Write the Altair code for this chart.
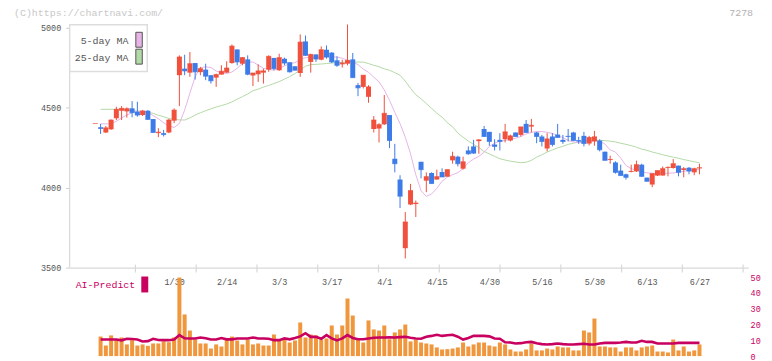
import altair as alt
import pandas as pd

# ---------------- data ----------------
opens = [4400,4377,4344,4364,4433,4480,4476,4495,4474,4453,
         4480,4428,4340,4340,4344,4418,4702,4743,4718,4778,
         4721,4737,4702,4687,4706,4718,4778,4863,4774,4801,
         4700,4708,4718,4737,4810,4733,4805,4783,4758,4716,
         4913,4785,4832,4799,4861,4843,4795,4770,4774,4801,
         4640,4629,4567,4366,4369,4395,4453,4180,4050,3621,
         3894,3897,4161,4043,4091,4050,4097,4068,4170,4193,
         4118,4232,4257,4290,4366,4348,4269,4298,4302,4294,
         4344,4329,4398,4381,4344,4319,4244,4319,4331,4298,
         4323,4344,4296,4323,4275,4288,4294,4224,4172,4157,
         4106,4083,4097,4101,4143,4062,4019,4075,4075,4122,
         4122,4137,4110,4124,4095,4120]
highs = [4400,4398,4385,4425,4505,4509,4501,4540,4536,4484,
         4484,4428,4371,4360,4429,4495,4826,4830,4847,4778,
         4754,4774,4702,4712,4764,4789,4894,4863,4816,4826,
         4716,4770,4743,4826,4810,4836,4812,4783,4758,4957,
         4950,4836,4832,4882,4888,4847,4820,4799,5019,4841,
         4654,4702,4640,4447,4402,4578,4453,4273,4077,3847,
         4023,3919,4161,4095,4095,4112,4120,4112,4224,4199,
         4193,4257,4298,4302,4385,4348,4302,4340,4398,4331,
         4344,4379,4422,4429,4348,4329,4340,4340,4398,4329,
         4366,4348,4317,4348,4323,4354,4302,4224,4199,4164,
         4143,4087,4143,4168,4149,4062,4087,4106,4132,4132,
         4178,4137,4128,4128,4124,4149]
lows = [4400,4335,4340,4360,4422,4422,4437,4439,4443,4447,
        4422,4344,4315,4319,4340,4402,4509,4702,4692,4675,
        4702,4671,4650,4629,4706,4718,4774,4764,4764,4702,
        4634,4660,4650,4723,4733,4729,4764,4719,4733,4692,
        4822,4718,4785,4795,4805,4778,4754,4750,4764,4687,
        4571,4619,4530,4344,4282,4391,4246,4095,3872,3557,
        3890,3816,4058,3971,4025,4050,4066,4068,4149,4132,
        4112,4205,4211,4211,4319,4261,4232,4232,4282,4288,
        4319,4319,4344,4344,4277,4257,4226,4257,4313,4273,
        4288,4290,4273,4257,4263,4261,4226,4170,4149,4087,
        4075,4050,4095,4097,4066,4039,4002,4072,4075,4070,
        4118,4070,4064,4083,4077,4083]
closes = [4400,4369,4373,4422,4489,4495,4493,4468,4453,4478,
          4426,4344,4346,4331,4422,4484,4816,4729,4774,4723,
          4743,4696,4667,4706,4727,4747,4884,4785,4812,4708,
          4716,4729,4729,4820,4743,4812,4778,4723,4733,4909,
          4826,4832,4803,4861,4816,4785,4764,4778,4795,4687,
          4623,4702,4629,4422,4393,4464,4294,4149,3946,3785,
          3981,3903,4112,4068,4025,4068,4066,4112,4195,4149,
          4161,4211,4215,4298,4319,4288,4257,4288,4348,4323,
          4319,4379,4344,4389,4319,4288,4304,4269,4313,4288,
          4319,4294,4290,4275,4313,4317,4236,4170,4176,4095,
          4075,4064,4101,4143,4070,4039,4087,4106,4118,4126,
          4149,4095,4118,4103,4118,4124]
volume = [None,12.4,6.7,13.1,10.5,11.8,7.4,10.1,6.7,7.4,
          6.5,8.0,8.0,9.3,8.8,11.8,49.8,26.4,16.2,10.5,
          8.0,8.0,4.8,7.4,6.1,10.5,12.4,9.9,7.4,10.5,
          7.4,8.0,6.7,6.7,13.7,10.5,10.5,8.6,9.9,21.3,
          11.8,13.7,13.1,10.5,11.2,19.4,13.7,19.4,36.5,25.7,
          10.5,8.6,22.6,16.9,16.2,19.4,10.7,15.0,16.9,20.0,
          9.3,10.5,8.6,8.0,7.4,5.5,4.2,4.4,4.8,5.5,
          8.6,6.1,7.4,8.6,8.6,6.7,6.1,8.6,7.4,4.2,
          2.9,2.9,4.2,8.0,3.6,3.6,4.8,4.2,6.1,5.5,
          5.5,3.6,3.6,16.2,15.0,23.8,6.1,6.1,5.5,5.5,
          2.9,5.5,5.5,3.6,5.5,6.1,6.7,2.9,2.9,2.3,
          10.5,3.6,6.1,2.9,3.6,7.4]
ai_predict = [None,10.5,10.5,10.5,10.5,10.0,11.0,10.8,10.5,9.3,
              9.5,11.0,10.2,10.1,10.1,10.5,13.3,11.3,11.2,11.2,
              11.8,11.3,10.5,10.5,11.4,10.6,10.6,11.2,11.2,11.2,
              11.8,11.2,11.2,11.0,10.1,10.1,11.2,10.6,11.5,12.5,
              14.5,12.2,12.2,11.0,13.3,11.2,9.9,11.2,13.3,11.5,
              10.7,10.7,11.2,11.6,11.8,11.8,11.9,11.8,12.0,12.2,
              11.6,11.2,11.0,12.3,12.8,13.5,12.8,13.2,13.5,12.3,
              10.5,11.5,12.8,12.8,12.8,12.5,11.2,11.0,8.8,8.6,
              8.0,8.2,8.8,9.0,8.2,7.6,7.4,7.6,8.0,7.6,
              7.4,7.4,7.6,7.8,7.4,7.4,8.0,8.4,8.4,8.4,
              8.6,9.0,8.6,8.6,9.7,9.0,9.0,8.0,8.0,8.0,
              8.0,8.4,8.4,8.4,8.4,8.4]
ma5 = [None,4398,4398,4398,4415,4435,4453,4468,4476,4480,
       4470,4450,4430,4405,4385,4375,4400,4484,4590,4692,
       4750,4754,4750,4728,4718,4712,4722,4745,4775,4783,
       4785,4765,4745,4738,4733,4745,4760,4775,4780,4800,
       4812,4812,4814,4816,4816,4816,4816,4808,4796,4785,
       4768,4740,4720,4690,4660,4610,4545,4470,4400,4315,
       4210,4080,3980,3945,3960,3995,4040,4065,4080,4093,
       4118,4155,4178,4195,4220,4257,4277,4290,4294,4302,
       4309,4319,4335,4345,4350,4350,4345,4338,4325,4312,
       4294,4285,4282,4282,4288,4294,4290,4272,4235,4222,
       4184,4138,4118,4108,4098,4092,4090,4087,4088,4090,
       4091,4097,4101,4107,4112,4112]
ma25 = [None,4489,4489,4489,4489,4487,4484,4480,4478,4475,
        4470,4464,4452,4443,4432,4426,4423,4422,4435,4453,
        4467,4480,4492,4503,4512,4522,4535,4552,4568,4585,
        4605,4615,4628,4638,4650,4662,4678,4693,4712,4735,
        4758,4768,4770,4772,4775,4778,4780,4782,4784,4784,
        4784,4784,4775,4764,4755,4742,4733,4718,4702,4665,
        4620,4580,4555,4525,4495,4465,4440,4405,4380,4340,
        4315,4290,4270,4250,4225,4210,4195,4180,4172,4165,
        4160,4155,4158,4170,4190,4205,4222,4235,4248,4258,
        4270,4277,4285,4292,4295,4296,4295,4293,4290,4285,
        4277,4270,4262,4252,4240,4233,4222,4214,4205,4197,
        4190,4183,4175,4168,4161,4155]

label_index = [15, 25, 35, 45, 55, 65, 75, 85, 95, 105, 115]
label_text = ["1/30", "2/14", "3/3", "3/17", "4/1", "4/15", "4/30", "5/16", "5/30", "6/13", "6/27"]
price_ticks = [3500, 4000, 4500, 5000]
volume_ticks = [0, 10, 20, 30, 40, 50]
legend_names = ["5-day MA", "25-day MA"]
watermark = "(C)https://chartnavi.com/"
code_text = "7278"
ai_name = "AI-Predict"

# ---------------- styles ----------------
RED = "#f0503c"
BLUE = "#3d7be8"
PINK = "#e6b4e6"
GREEN = "#b3d9a6"
ORANGE = "#f0963c"
CRIMSON = "#c8005f"
FONT = "Liberation Mono"
AXIS_GRAY = "#d8d8d8"
LABEL = "#555555"

W, H = 682, 333          # whole plot area (price panel + volume panel)
PRICE_H = 244            # price panel height (top part)

n = len(opens)
df = pd.DataFrame({"i": list(range(n)), "o": opens, "h": highs, "l": lows,
                   "c": closes, "vol": volume, "ai": ai_predict,
                   "ma5": ma5, "ma25": ma25})

X_MIN, X_MAX = -3.937, 123.302
PX_PER_YEN = 0.16087
P_TOP = 3500 + PRICE_H / PX_PER_YEN
P_BOT = 3500 - (H - PRICE_H) / PX_PER_YEN
xs = alt.Scale(domain=[X_MIN, X_MAX], nice=False, zero=False)
ys = alt.Scale(domain=[P_BOT, P_TOP], nice=False, zero=False)
vs = alt.Scale(domain=[0, H / 1.586], nice=False, zero=False)

label_expr = " : ".join(f"datum.value == {i} ? '{t}'" for i, t in zip(label_index, label_text)) + " : ''"

xaxis = alt.Axis(values=label_index, labelExpr=label_expr, ticks=False, grid=False,
                 domainColor=AXIS_GRAY, domainWidth=1.2, labelFont=FONT, labelFontSize=8.5,
                 labelColor=LABEL, labelPadding=10, labelFlush=False, labelOverlap=False,
                 title=None, offset=-(H - PRICE_H))
yaxis = alt.Axis(values=price_ticks, format="d", tickSize=4, tickColor="#cccccc",
                 domain=False, labelFont=FONT, labelFontSize=8.5,
                 labelColor=LABEL, labelPadding=5, grid=False, title=None, labelFlush=False)
vaxis = alt.Axis(orient="right", values=volume_ticks, format="d", ticks=False, domain=False, grid=False,
                 labelFont=FONT, labelFontSize=8.5, labelColor=CRIMSON, labelPadding=2, title=None,
                 labelFlush=False)


def X(field):
    return alt.X(field, type="quantitative", scale=xs, axis=xaxis)


def Y(field):
    return alt.Y(field, type="quantitative", scale=ys, axis=yaxis)


def V(field):
    return alt.Y(field, type="quantitative", scale=vs, axis=vaxis)


base = alt.Chart(df)
up_down = alt.condition("datum.c >= datum.o", alt.value(RED), alt.value(BLUE))

ma25_line = base.mark_line(color=GREEN, strokeWidth=1).encode(x=X("i"), y=Y("ma25"))
ma5_line = base.mark_line(color=PINK, strokeWidth=1).encode(x=X("i"), y=Y("ma5"))
wicks = base.mark_rule(strokeWidth=1).encode(x=X("i"), y=Y("l"), y2="h", color=up_down)
bodies = base.mark_bar(size=5).encode(x=X("i"), y=Y("o"), y2="c", color=up_down)
dojis = base.mark_tick(orient="horizontal", size=5, thickness=1).encode(x=X("i"), y=Y("c"), color=up_down)

price = alt.layer(ma25_line, ma5_line, wicks, bodies, dojis)

vol_bars = base.mark_bar(size=4, color=ORANGE).encode(x=X("i"), y=V("vol"))
ai_line = base.mark_line(color=CRIMSON, strokeWidth=2.6).encode(x=X("i"), y=V("ai"))
vol = alt.layer(vol_bars, ai_line)

one = pd.DataFrame({"a": [0]})
tick_df = pd.DataFrame({"t": [X_MIN + k * (X_MAX - X_MIN) / 11 for k in range(1, 12)]})
xticks = alt.Chart(tick_df).mark_rule(color=AXIS_GRAY, strokeWidth=1.2).encode(
    x=X("t"), y=alt.value(PRICE_H - 3), y2=alt.value(PRICE_H + 5))
left_line = alt.Chart(one).mark_rule(color=AXIS_GRAY, strokeWidth=1.2).encode(
    x=alt.value(0), y=alt.value(0), y2=alt.value(PRICE_H))

legend_box = alt.Chart(one).mark_rect(fill="white", stroke="#dddddd", strokeWidth=1.5).encode(
    x=alt.value(0), x2=alt.value(78), y=alt.value(0), y2=alt.value(47))
legend_t1 = alt.Chart(one).mark_text(font=FONT, fontSize=10, color=LABEL, align="right", baseline="middle").encode(
    x=alt.value(59), y=alt.value(16), text=alt.value(legend_names[0]))
legend_t2 = alt.Chart(one).mark_text(font=FONT, fontSize=10, color=LABEL, align="right", baseline="middle").encode(
    x=alt.value(59), y=alt.value(33), text=alt.value(legend_names[1]))
legend_s1 = alt.Chart(one).mark_rect(fill=PINK, stroke="#555555", strokeWidth=1).encode(
    x=alt.value(66.5), x2=alt.value(73), y=alt.value(7.5), y2=alt.value(22.5))
legend_s2 = alt.Chart(one).mark_rect(fill=GREEN, stroke="#555555", strokeWidth=1).encode(
    x=alt.value(66.5), x2=alt.value(73), y=alt.value(24.5), y2=alt.value(39.5))
wm = alt.Chart(one).mark_text(font=FONT, fontSize=10, color="#c8c8c8", align="left", baseline="middle").encode(
    x=alt.value(-56), y=alt.value(-12), text=alt.value(watermark))
code = alt.Chart(one).mark_text(font=FONT, fontSize=10, color="#b0b0b0", align="right", baseline="middle").encode(
    x=alt.value(687), y=alt.value(-12), text=alt.value(code_text))
ai_text = alt.Chart(one).mark_text(font=FONT, fontSize=10, color=CRIMSON, align="left", baseline="middle").encode(
    x=alt.value(6), y=alt.value(PRICE_H + 18), text=alt.value(ai_name))
ai_sw = alt.Chart(one).mark_rect(fill=CRIMSON).encode(
    x=alt.value(72), x2=alt.value(79), y=alt.value(PRICE_H + 9), y2=alt.value(PRICE_H + 25))

chart = alt.layer(
    price, vol, xticks, left_line,
    legend_box, legend_t1, legend_t2, legend_s1, legend_s2, wm, code, ai_text, ai_sw
).resolve_scale(y="independent").properties(
    width=W, height=H,
    autosize=alt.AutoSizeParams(type="none"),
    padding={"left": 62, "top": 16, "right": 16, "bottom": 5},
    background="white",
).configure_view(stroke=None)

chart.save("out.html", embed_options={"renderer": "svg", "actions": False})
